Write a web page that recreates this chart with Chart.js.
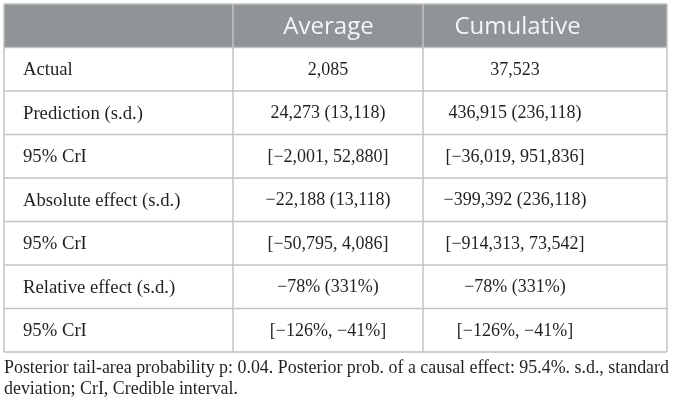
<!DOCTYPE html>
<html><head><meta charset="utf-8">
<script src="https://cdn.jsdelivr.net/npm/chart.js@4.4.0/dist/chart.umd.min.js"></script>
<style>html,body{margin:0;padding:0;background:#fff;} #wrap{width:673px;height:407px;}</style>
</head><body><div id="wrap"><canvas id="c" width="673" height="407"></canvas></div>
<script>
// ---- data ----
const columnHeaders = ['Average', 'Cumulative'];
const rowLabels = ['Actual', 'Prediction (s.d.)', '95% CrI', 'Absolute effect (s.d.)', '95% CrI', 'Relative effect (s.d.)', '95% CrI'];
const averageValues = ['2,085', '24,273 (13,118)', '[\u22122,001, 52,880]', '\u221222,188 (13,118)', '[\u221250,795, 4,086]', '\u221278% (331%)', '[\u2212126%, \u221241%]'];
const cumulativeValues = ['37,523', '436,915 (236,118)', '[\u221236,019, 951,836]', '\u2212399,392 (236,118)', '[\u2212914,313, 73,542]', '\u221278% (331%)', '[\u2212126%, \u221241%]'];
const footnoteLines = ['Posterior tail-area probability p: 0.04. Posterior prob. of a causal effect: 95.4%. s.d., standard', 'deviation; CrI, Credible interval.'];

// ---- layout (table units along x scale) ----
const TABLE_W = 663;
const columnEdges = [0, 229, 419, 663];
const labelLeft = 19;
const valueCenters = [324, 511];
const headerCenters = [324.5, 513.5];

const yLabels = ['header'].concat(rowLabels.map((r, i) => 'r' + i));
const headerBar = yLabels.map((l, i) => i === 0 ? [0, TABLE_W] : null);

const tablePlugin = {
  id: 'tableText',
  afterDatasetsDraw(chart) {
    const { ctx, chartArea, scales: { x, y } } = chart;
    const band = y.getPixelForValue(1) - y.getPixelForValue(0);
    const top = chartArea.top, bottom = chartArea.bottom;
    ctx.save();
    // grid lines
    ctx.strokeStyle = '#c2c2c2';
    ctx.lineWidth = 1.5;
    ctx.beginPath();
    for (let i = 0; i <= yLabels.length; i++) {
      const yy = i === yLabels.length ? bottom : (i === 0 ? top : y.getPixelForValue(i) - band / 2);
      ctx.moveTo(x.getPixelForValue(0), yy);
      ctx.lineTo(x.getPixelForValue(TABLE_W), yy);
    }
    columnEdges.forEach(e => {
      const xx = x.getPixelForValue(e);
      ctx.moveTo(xx, top);
      ctx.lineTo(xx, bottom);
    });
    ctx.stroke();
    // header text
    ctx.fillStyle = '#f4f5f5';
    ctx.font = '24px "Open Sans"';
    ctx.textBaseline = 'middle';
    ctx.textAlign = 'center';
    columnHeaders.forEach((h, i) => {
      ctx.fillText(h, x.getPixelForValue(headerCenters[i]), y.getPixelForValue(0) + 1);
    });
    // body
    ctx.fillStyle = '#231f20';
    rowLabels.forEach((lab, i) => {
      const yy = y.getPixelForValue(i + 1) + 1;
      ctx.font = '18.7px "Liberation Serif"';
      ctx.textAlign = 'left';
      ctx.fillText(lab, x.getPixelForValue(labelLeft), yy);
      ctx.font = '18px "Liberation Serif"';
      ctx.textAlign = 'center';
      ctx.fillText(averageValues[i], x.getPixelForValue(valueCenters[0]), yy);
      ctx.fillText(cumulativeValues[i], x.getPixelForValue(valueCenters[1]), yy);
    });
    // footnote
    ctx.font = '17.9px "Liberation Serif"';
    ctx.textAlign = 'left';
    ctx.textBaseline = 'alphabetic';
    footnoteLines.forEach((t, i) => {
      ctx.fillText(t, x.getPixelForValue(0), 373 + i * 21);
    });
    ctx.restore();
  }
};

new Chart(document.getElementById('c'), {
  type: 'bar',
  data: {
    labels: yLabels,
    datasets: [{ data: headerBar, backgroundColor: '#8e9497', borderWidth: 0, barPercentage: 1, categoryPercentage: 1 }]
  },
  options: {
    indexAxis: 'y',
    responsive: false,
    animation: false,
    events: [],
    layout: { padding: { left: 4, top: 4, right: 6, bottom: 55 } },
    scales: {
      x: { type: 'linear', min: 0, max: TABLE_W, display: false },
      y: { type: 'category', display: false, offset: true }
    },
    plugins: { legend: { display: false }, tooltip: { enabled: false } }
  },
  plugins: [tablePlugin]
});
</script>
</body></html>
